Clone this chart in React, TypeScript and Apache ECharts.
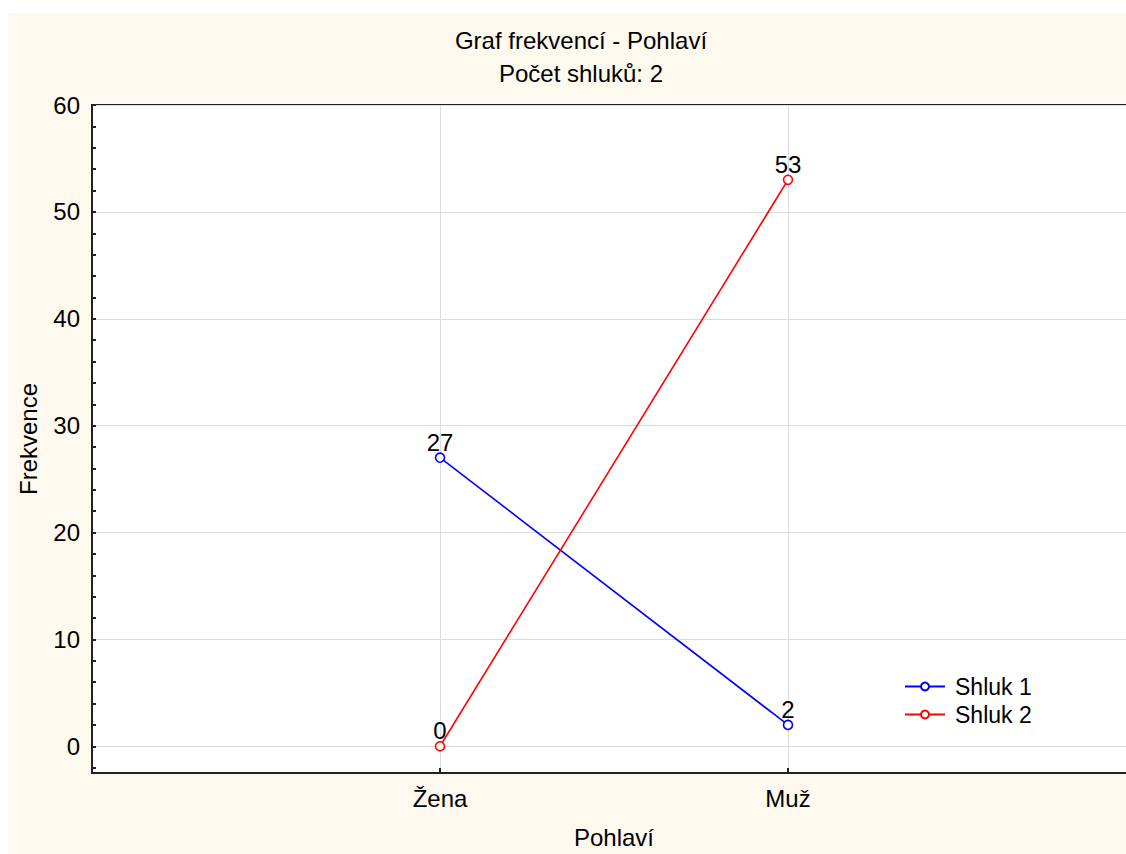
import React, { useEffect, useRef } from "react";
import * as echarts from "echarts";

const titleText = "Graf frekvencí - Pohlaví";
const subtitleText = "Počet shluků: 2";
const categories = ["Žena", "Muž"];
const seriesNames = ["Shluk 1", "Shluk 2"];
const shluk1 = [27, 2];
const shluk2 = [0, 53];
const yLabelValues = [0, 10, 20, 30, 40, 50, 60];
const yTickValues = [-2, 0, 2, 4, 6, 8, 10, 12, 14, 16, 18, 20, 22, 24, 26, 28, 30, 32, 34, 36, 38, 40, 42, 44, 46, 48, 50, 52, 54, 56, 58, 60];
const xAxisName = "Pohlaví";
const yAxisName = "Frekvence";

const FONT = 'Arial, "Liberation Sans", sans-serif';
const CREAM = "#fef9ee";

export default function App() {
  const ref = useRef<HTMLDivElement>(null);
  useEffect(() => {
    if (!ref.current) return;
    const chart = echarts.init(ref.current, null, { renderer: "svg" });
    const axisCats = ["", ...categories, " "];
    const mk = (vals: number[]) => categories.map((c, i) => [c, vals[i]]);
    const lineSeries = (name: string, vals: number[], color: string) => ({
      name,
      type: "line",
      data: mk(vals),
      xAxisIndex: 0,
      yAxisIndex: 0,
      symbol: "circle",
      symbolSize: 9,
      itemStyle: { color: "#fff", borderColor: color, borderWidth: 1.6 },
      lineStyle: { color, width: 1.6 },
      label: {
        show: true,
        position: "top",
        distance: -2,
        color: "#000",
        fontSize: 24,
        fontFamily: FONT,
      },
      emphasis: { disabled: true },
    });
    chart.setOption({
      animation: false,
      backgroundColor: CREAM,
      textStyle: { fontFamily: FONT },
      title: [
        {
          text: titleText,
          left: 568,
          top: 10,
          textAlign: "center",
          textStyle: { fontSize: 24, fontWeight: "normal", color: "#000", fontFamily: FONT },
        },
        {
          text: subtitleText,
          left: 568,
          top: 43,
          textAlign: "center",
          textStyle: { fontSize: 24, fontWeight: "normal", color: "#000", fontFamily: FONT },
        },
      ],
      legend: {
        orient: "vertical",
        left: 891,
        top: 657,
        itemWidth: 40,
        itemHeight: 10,
        itemGap: 5,
        textStyle: { fontSize: 23, color: "#000", fontFamily: FONT, padding: [0, 0, 0, 5] },
        data: seriesNames,
      },
      grid: {
        left: 84,
        right: 32,
        top: 92,
        bottom: 79,
        show: true,
        backgroundColor: "#fff",
        borderColor: "#222",
        borderWidth: 2,
      },
      xAxis: {
        type: "category",
        data: axisCats,
        boundaryGap: false,
        name: xAxisName,
        nameLocation: "middle",
        nameGap: 52,
        nameTextStyle: { fontSize: 24, color: "#000", fontFamily: FONT },
        axisLine: { onZero: false, lineStyle: { color: "#222", width: 2 } },
        axisTick: { inside: true, length: 5, lineStyle: { color: "#222", width: 2 } },
        axisLabel: { color: "#000", fontSize: 24, margin: 13, fontFamily: FONT },
        splitLine: { show: true, lineStyle: { color: "#dcdcdc", width: 1 } },
      },
      yAxis: [
        {
          type: "value",
          min: -2.5,
          max: 60,
          name: yAxisName,
          nameLocation: "middle",
          nameGap: 52,
          nameTextStyle: { fontSize: 24, color: "#000", fontFamily: FONT },
          axisLine: { show: true, onZero: false, lineStyle: { color: "#222", width: 2 } },
          axisTick: {
            show: true,
            inside: true,
            length: 4,
            customValues: yTickValues,
            lineStyle: { color: "#222", width: 2 },
          },
          axisLabel: {
            color: "#000",
            fontSize: 24,
            margin: 12,
            fontFamily: FONT,
            customValues: yLabelValues,
          },
          splitLine: { show: false },
        },
        {
          type: "value",
          min: -2.5,
          max: 60,
          position: "left",
          axisLine: { show: false },
          axisTick: { show: false },
          axisLabel: { show: false },
          splitLine: { show: true, lineStyle: { color: "#dcdcdc", width: 1 } },
        },
      ],
      series: [
        lineSeries(seriesNames[0], shluk1, "#0000ff"),
        lineSeries(seriesNames[1], shluk2, "#ff0000"),
      ],
    });
    return () => chart.dispose();
  }, []);
  return (
    <div
      style={{
        position: "fixed",
        left: 8,
        top: 13,
        width: 1118,
        height: 841,
        overflow: "hidden",
        background: CREAM,
      }}
    >
      <div ref={ref} style={{ width: 1160, height: 841 }} />
    </div>
  );
}
